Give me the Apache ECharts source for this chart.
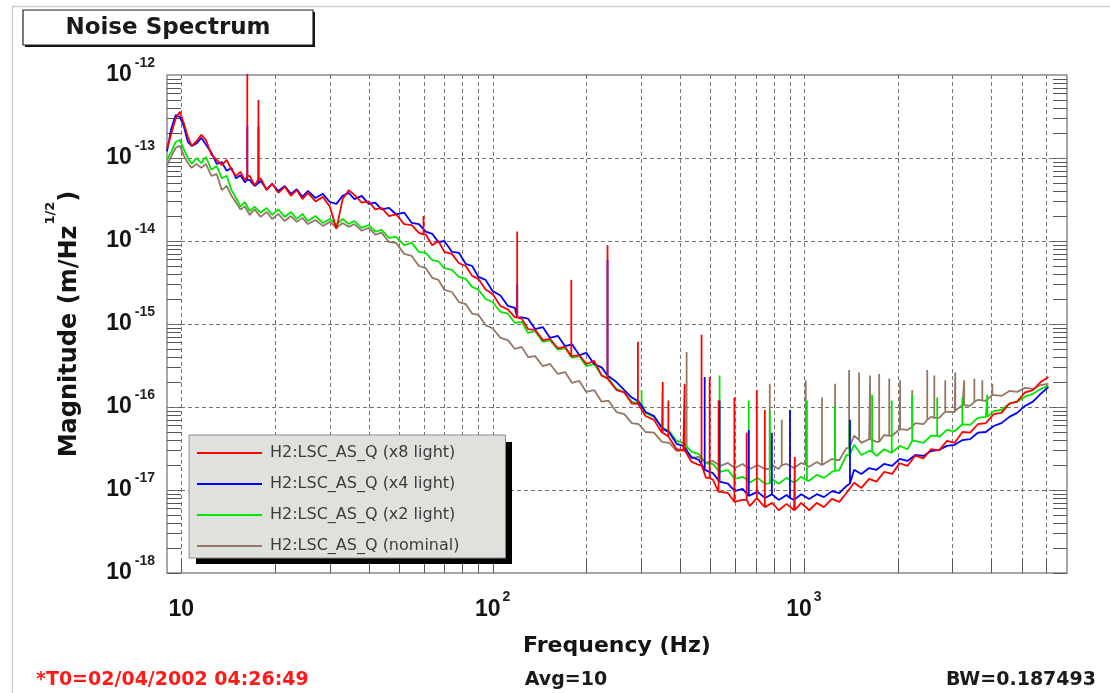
<!DOCTYPE html>
<html><head><meta charset="utf-8">
<script src="https://cdn.jsdelivr.net/npm/echarts@6/dist/echarts.min.js"></script>
<style>html,body{margin:0;padding:0;background:#fff;}#c{width:1110px;height:693px;}</style>
</head><body><div id="c"></div>
<script>
// ---- data ----
const freqs = [9,9.3,9.6,9.9,10.2,10.5,10.8,11.2,11.6,12,12.5,13,13.5,14,14.5,15,15.5,16,16.6,17.2,18,18.8,19.6,20.5,21.5,22.5,23.5,24.5,25.5,27,28.5,30,31.5,33,34.5,36,38,40,42,44,46.5,49,52,55,58,61,64,67,70,74,78,82,86,90,95,100,106,112,118,124,130,137,145,153,162,171,180,190,200,212,224,236,250,265,280,295,310,330,350,370,390,410,435,460,485,510,540,570,600,635,670,710,750,790,830,880,930,980,1040,1100,1160,1230,1300,1370,1450,1530,1620,1710,1810,1920,2030,2150,2280,2420,2560,2720,2880,3050,3230,3420,3620,3840,4070,4310,4570,4840,5130,5440,5760,6100];

const magX8 = [1.3e-13,2.0e-13,3.0e-13,3.6e-13,2.6e-13,1.8e-13,1.4e-13,1.6e-13,1.9e-13,1.65e-13,
1.1e-13,9.5e-14,8.2e-14,9.5e-14,7.2e-14,6.1e-14,6.8e-14,5.4e-14,6.1e-14,4.7e-14,
5.7e-14,4.1e-14,4.9e-14,3.8e-14,4.5e-14,3.5e-14,4.1e-14,3.2e-14,3.8e-14,3.0e-14,
3.4e-14,2.6e-14,1.4e-14,3.2e-14,4.1e-14,3.6e-14,2.9e-14,3.0e-14,2.4e-14,2.5e-14,
2.0e-14,2.1e-14,1.6e-14,1.55e-14,1.25e-14,1.2e-14,8.9e-15,1.0e-14,7.4e-15,7.0e-15,
5.4e-15,5.0e-15,3.8e-15,3.5e-15,2.6e-15,2.3e-15,1.65e-15,1.5e-15,1.2e-15,1.16e-15,
8.7e-16,8.5e-16,6.4e-16,6.6e-16,5.1e-16,5.3e-16,4.1e-16,4.2e-16,3.3e-16,3.6e-16,
2.4e-16,2.2e-16,1.6e-16,1.5e-16,1.1e-16,1.06e-16,7.8e-17,7.0e-17,4.9e-17,4.35e-17,
3.1e-17,3.0e-17,2.2e-17,2.0e-17,1.4e-17,1.33e-17,9.5e-18,9.2e-18,7.2e-18,7.6e-18,
6.4e-18,8.0e-18,6.2e-18,7.0e-18,5.7e-18,6.8e-18,5.7e-18,7.0e-18,5.7e-18,7.0e-18,
6.2e-18,7.8e-18,7.2e-18,9.2e-18,1.22e-17,1.06e-17,1.36e-17,1.26e-17,1.65e-17,1.56e-17,
2.1e-17,1.95e-17,2.6e-17,2.4e-17,3.1e-17,3.0e-17,3.9e-17,3.7e-17,5.0e-17,4.9e-17,
6.2e-17,6.4e-17,8.2e-17,8.5e-17,1.1e-16,1.16e-16,1.5e-16,1.6e-16,2.0e-16,2.3e-16];

const magX4 = [1.2e-13,2.3e-13,3.3e-13,3.1e-13,2.4e-13,1.56e-13,1.4e-13,1.5e-13,1.75e-13,1.45e-13,
1.16e-13,8.5e-14,8.9e-14,7.0e-14,7.6e-14,5.7e-14,6.2e-14,5.1e-14,5.4e-14,4.6e-14,
5.3e-14,4.2e-14,4.9e-14,4.0e-14,4.6e-14,3.7e-14,4.2e-14,3.4e-14,4.0e-14,3.3e-14,
3.7e-14,2.95e-14,2.8e-14,3.5e-14,3.8e-14,3.2e-14,3.5e-14,2.8e-14,2.9e-14,2.4e-14,
2.5e-14,2.1e-14,2.2e-14,1.65e-14,1.6e-14,1.3e-14,1.22e-14,9.7e-15,1.0e-14,7.4e-15,
7.2e-15,5.3e-15,5.0e-15,3.7e-15,3.4e-15,2.5e-15,2.2e-15,1.65e-15,1.56e-15,1.2e-15,
1.16e-15,8.7e-16,9.2e-16,6.8e-16,7.2e-16,5.4e-16,5.7e-16,4.2e-16,4.5e-16,3.3e-16,
3.0e-16,2.4e-16,2.0e-16,1.6e-16,1.3e-16,1.16e-16,8.7e-17,7.8e-17,5.6e-17,4.9e-17,
3.6e-17,3.4e-17,2.5e-17,2.3e-17,1.75e-17,1.6e-17,1.26e-17,1.19e-17,9.7e-18,1.03e-17,
8.5e-18,9.5e-18,8.0e-18,8.9e-18,7.6e-18,8.7e-18,7.6e-18,8.9e-18,7.8e-18,8.9e-18,
8.2e-18,9.7e-18,9.2e-18,1.12e-17,1.75e-17,1.56e-17,1.84e-17,1.75e-17,2.06e-17,1.95e-17,
2.37e-17,2.24e-17,2.64e-17,2.57e-17,2.95e-17,3.04e-17,3.4e-17,3.5e-17,4.0e-17,4.1e-17,
4.9e-17,5.0e-17,5.9e-17,6.4e-17,7.6e-17,8.5e-17,1.03e-16,1.16e-16,1.44e-16,1.74e-16];

const magX2 = [9.5e-14,1.2e-13,1.56e-13,1.65e-13,1.26e-13,1.0e-13,8.5e-14,1.0e-13,8.7e-14,1.03e-13,
7.2e-14,8.0e-14,5.7e-14,6.1e-14,4.1e-14,3.3e-14,2.6e-14,2.95e-14,2.3e-14,2.6e-14,
2.2e-14,2.5e-14,2.06e-14,2.4e-14,1.95e-14,2.24e-14,1.84e-14,2.12e-14,1.74e-14,2.0e-14,
1.65e-14,1.84e-14,1.56e-14,1.84e-14,1.6e-14,1.74e-14,1.44e-14,1.56e-14,1.3e-14,1.36e-14,
1.09e-14,1.12e-14,8.9e-15,9.5e-15,7.4e-15,7.2e-15,5.9e-15,5.7e-15,4.7e-15,4.5e-15,
3.7e-15,3.5e-15,2.8e-15,2.6e-15,2.0e-15,1.84e-15,1.4e-15,1.33e-15,1.03e-15,1.06e-15,
7.8e-16,8.2e-16,6.1e-16,6.4e-16,4.9e-16,5.1e-16,3.9e-16,4.1e-16,3.1e-16,3.3e-16,
2.4e-16,2.2e-16,1.65e-16,1.5e-16,1.16e-16,1.1e-16,8.5e-17,7.6e-17,5.7e-17,5.1e-17,
3.9e-17,3.7e-17,2.9e-17,2.7e-17,2.1e-17,2.06e-17,1.65e-17,1.74e-17,1.36e-17,1.44e-17,
1.22e-17,1.4e-17,1.19e-17,1.36e-17,1.19e-17,1.4e-17,1.22e-17,1.44e-17,1.29e-17,1.52e-17,
1.4e-17,1.65e-17,1.74e-17,2.64e-17,3.5e-17,2.64e-17,2.95e-17,2.57e-17,3.1e-17,2.8e-17,
3.4e-17,3.1e-17,3.9e-17,3.7e-17,4.5e-17,4.35e-17,5.3e-17,5.1e-17,6.2e-17,6.1e-17,
7.4e-17,7.6e-17,8.9e-17,9.2e-17,1.1e-16,1.16e-16,1.33e-16,1.44e-16,1.65e-16,1.8e-16];

const magNominal = [8.2e-14,1.06e-13,1.33e-13,1.4e-13,1.06e-13,8.7e-14,7.6e-14,8.5e-14,7.6e-14,8.5e-14,
6.1e-14,6.4e-14,4.1e-14,4.6e-14,3.5e-14,2.9e-14,2.4e-14,2.6e-14,2.06e-14,2.4e-14,
1.95e-14,2.24e-14,1.84e-14,2.12e-14,1.74e-14,2.0e-14,1.7e-14,1.9e-14,1.6e-14,1.79e-14,
1.52e-14,1.7e-14,1.44e-14,1.65e-14,1.48e-14,1.6e-14,1.33e-14,1.44e-14,1.19e-14,1.26e-14,
9.7e-15,9.5e-15,7.0e-15,6.6e-15,5.0e-15,4.7e-15,3.6e-15,3.4e-15,2.57e-15,2.43e-15,
1.84e-15,1.74e-15,1.33e-15,1.29e-15,9.7e-16,8.9e-16,6.8e-16,6.4e-16,5.0e-16,5.3e-16,
4.0e-16,4.1e-16,3.1e-16,3.3e-16,2.5e-16,2.64e-16,1.95e-16,2.06e-16,1.52e-16,1.6e-16,
1.16e-16,1.19e-16,8.7e-17,8.2e-17,6.4e-17,6.2e-17,5.0e-17,4.9e-17,3.8e-17,3.7e-17,
2.95e-17,3.0e-17,2.43e-17,2.5e-17,2.12e-17,2.24e-17,1.95e-17,2.12e-17,1.84e-17,2.06e-17,
1.79e-17,2.0e-17,1.79e-17,2.0e-17,1.79e-17,2.06e-17,1.84e-17,2.12e-17,1.9e-17,2.18e-17,
2.0e-17,2.37e-17,2.3e-17,3.2e-17,4.5e-17,3.7e-17,4.1e-17,3.8e-17,4.6e-17,4.5e-17,
5.4e-17,5.3e-17,6.4e-17,6.2e-17,7.6e-17,7.4e-17,8.9e-17,8.7e-17,1.06e-16,1.03e-16,
1.22e-16,1.19e-16,1.4e-16,1.36e-16,1.56e-16,1.52e-16,1.7e-16,1.65e-16,1.84e-16,1.9e-16];

// spectral lines: [frequency, level beside the line, peak level]
const spikesX8 = [[16.3,6.0e-14,1.1e-12],[17.7,5.5e-14,5.0e-13],[60,1.2e-14,2.0e-14],[120,1.2e-15,1.3e-14],[179,4.1e-16,3.4e-15],[234,2.2e-16,8.9e-15],[293,1.1e-16,6.1e-16],[352,4.9e-17,2.0e-16],[367,4.4e-17,1.2e-16],[414,3.0e-17,1.9e-16],[469,2.0e-17,7.4e-16],[498,1.4e-17,2.3e-16],[532,9.5e-18,1.2e-16],[598,7.2e-18,1.3e-16],[655,7.6e-18,4.9e-17],[706,8.0e-18,1.6e-16],[749,6.2e-18,9.2e-17],[935,5.7e-18,2.5e-17]];
const spikesX4 = [[16.3,5.5e-14,2.4e-13],[17.7,5.0e-14,2.4e-13],[120,1.2e-15,3.0e-15],[234,2.4e-16,5.9e-15],[480,1.75e-17,2.3e-16],[536,1.26e-17,1.2e-16],[665,8.5e-18,5.3e-17],[789,8.9e-18,4.9e-17],[902,8.0e-18,9.2e-17],[1406,1.2e-17,7.0e-17]];
const spikesX2 = [[301,1.1e-16,1.6e-16],[536,1.65e-17,2.4e-16],[665,1.3e-17,1.2e-16],[777,1.2e-17,9.2e-17],[1023,1.3e-17,1.2e-16],[1259,1.7e-17,1.05e-16],[1400,2.6e-17,6.4e-17],[1656,2.9e-17,1.4e-16],[1915,2.8e-17,1.2e-16],[2228,3.9e-17,1.4e-16],[2680,4.5e-17,1.3e-16],[3228,6.2e-17,1.3e-16],[3882,7.6e-17,1.4e-16]];
const spikesNominal = [[420,2.9e-17,4.6e-16],[777,1.8e-17,1.9e-16],[849,2.0e-17,7.0e-17],[1014,2.0e-17,2.1e-16],[1143,2.0e-17,1.3e-16],[1259,2.3e-17,1.9e-16],[1397,3.2e-17,2.8e-16],[1504,4.0e-17,2.6e-16],[1632,4.1e-17,2.4e-16],[1745,3.8e-17,2.5e-16],[1880,4.5e-17,2.2e-16],[2038,5.4e-17,2.1e-16],[2228,5.8e-17,1.6e-16],[2490,7.0e-17,2.8e-16],[2624,7.4e-17,2.4e-16],[2845,8.8e-17,2.1e-16],[3064,9.0e-17,2.6e-16],[3273,1.05e-16,2.1e-16],[3528,1.15e-16,2.2e-16],[3742,1.2e-16,2.1e-16],[4030,1.4e-16,1.9e-16]];

const seriesNames = ['H2:LSC_AS_Q (x8 light)','H2:LSC_AS_Q (x4 light)','H2:LSC_AS_Q (x2 light)','H2:LSC_AS_Q (nominal)'];
const seriesColors = ['#ff0000','#0000ff','#00e600','#957766'];

// axis ticks / labels
const xMin = 9, xMax = 7000, yMin = 1e-18, yMax = 1e-12;
const xLabelValues = [10, 100, 1000];
const xLabelExps = ['', '2', '3'];
const yLabelValues = [1e-18,1e-17,1e-16,1e-15,1e-14,1e-13,1e-12];
const yLabelExps = ['-18','-17','-16','-15','-14','-13','-12'];
const xGrid = [10,20,30,40,50,60,70,80,90,100,200,300,400,500,600,700,800,900,1000,2000,3000,4000,5000,6000];
const yDecadeExps = [-18,-17,-16,-15,-14,-13];
const yMantissas = [1,2,3,4,5,6,7,8,9];

// ---- build ----
function buildLine(mags, spikes) {
  const pts = freqs.map((f, i) => [f, mags[i]]);
  spikes.forEach(s => { pts.push([s[0], s[1]], [s[0], s[2]], [s[0], s[1]]); });
  pts.sort((a, b) => a[0] - b[0]);
  return pts;
}
const lineData = [buildLine(magX8, spikesX8), buildLine(magX4, spikesX4), buildLine(magX2, spikesX2), buildLine(magNominal, spikesNominal)];

const yTicks = [];
yDecadeExps.forEach(e => yMantissas.forEach(m => yTicks.push([100, m * Math.pow(10, e), (m === 1 && e > -18) ? 1 : 0])));

function findIdx(arr, v) {
  for (let i = 0; i < arr.length; i++) if (Math.abs(Math.log10(v) - Math.log10(arr[i])) < 1e-6) return i;
  return -1;
}

const gridStroke = '#737373';
const tickStroke = '#555';
const TICK = 14;
const r5 = v => Math.round(v) + 0.5;

const series = [];
series.push({
  type: 'custom', name: '_xgrid', coordinateSystem: 'cartesian2d', silent: true, z: 1,
  data: xGrid.map(v => [v, yMin]),
  renderItem: (params, api) => {
    const v = api.value(0);
    const b = api.coord([v, yMin]), t = api.coord([v, yMax]);
    const x = r5(b[0]);
    return { type: 'group', children: [
      { type: 'line', shape: { x1: x, y1: t[1], x2: x, y2: b[1] }, style: { stroke: gridStroke, lineWidth: 1, lineDash: [4, 3] } },
      { type: 'line', shape: { x1: x, y1: b[1], x2: x, y2: b[1] - TICK }, style: { stroke: tickStroke, lineWidth: 1 } }
    ]};
  }
});
series.push({
  type: 'custom', name: '_ygrid', coordinateSystem: 'cartesian2d', silent: true, z: 1,
  data: yTicks,
  renderItem: (params, api) => {
    const v = api.value(1), major = api.value(2);
    const l = api.coord([xMin, v]), r = api.coord([xMax, v]);
    const y = r5(l[1]);
    const ch = [
      { type: 'line', shape: { x1: l[0], y1: y, x2: l[0] + TICK, y2: y }, style: { stroke: tickStroke, lineWidth: 1 } },
      { type: 'line', shape: { x1: r[0] - TICK, y1: y, x2: r[0], y2: y }, style: { stroke: tickStroke, lineWidth: 1 } }
    ];
    if (major) ch.push({ type: 'line', shape: { x1: l[0], y1: y, x2: r[0], y2: y }, style: { stroke: gridStroke, lineWidth: 1, lineDash: [4, 3] } });
    return { type: 'group', children: ch };
  }
});
// draw nominal first, x8 last (on top)
[3, 2, 1, 0].forEach(i => {
  series.push({
    name: seriesNames[i], type: 'line', data: lineData[i], showSymbol: false, symbol: 'none',
    lineStyle: { color: seriesColors[i], width: 1.8 }, itemStyle: { color: seriesColors[i] },
    z: 2, silent: true, emphasis: { disabled: true }, clip: true
  });
});

const tickFont = 'Liberation Sans';
const option = {
  animation: false,
  backgroundColor: '#ffffff',
  textStyle: { fontFamily: 'DejaVu Sans' },
  grid: { left: 167, top: 75, width: 900, height: 498, show: true, borderColor: '#8a8a8a', borderWidth: 1.5, backgroundColor: 'rgba(0,0,0,0)', outerBoundsMode: 'none' },
  xAxis: {
    type: 'log', logBase: 10, min: xMin, max: xMax,
    name: 'Frequency (Hz)', nameLocation: 'middle', nameGap: 53,
    nameTextStyle: { fontFamily: 'DejaVu Sans', fontWeight: 'bold', fontSize: 22, lineHeight: 26, color: '#141414' },
    axisLine: { show: false }, axisTick: { show: false }, splitLine: { show: false }, minorTick: { show: false }, minorSplitLine: { show: false },
    axisLabel: {
      margin: 17,
      formatter: v => { const i = findIdx(xLabelValues, v); if (i < 0) return ''; return xLabelExps[i] ? '{b|10}{s|' + xLabelExps[i] + '}' : '{b|10}'; },
      rich: {
        b: { fontFamily: tickFont, fontWeight: 'bold', fontSize: 23, lineHeight: 39, color: '#141414' },
        s: { fontFamily: tickFont, fontWeight: 'bold', fontSize: 14, lineHeight: 15, padding: [0, 0, 24, 2], color: '#222' }
      }
    }
  },
  yAxis: {
    type: 'log', logBase: 10, min: yMin, max: yMax,
    name: '{a|Magnitude (m/Hz}{s|1/2}{a|)}', nameLocation: 'middle', nameGap: 73,
    nameTextStyle: {
      rich: {
        a: { fontFamily: 'DejaVu Sans', fontWeight: 'bold', fontSize: 24, lineHeight: 28, color: '#141414' },
        s: { fontFamily: 'DejaVu Sans', fontWeight: 'bold', fontSize: 13, lineHeight: 13, padding: [0, 0, 38, 1], color: '#141414' }
      }
    },
    axisLine: { show: false }, axisTick: { show: false }, splitLine: { show: false }, minorTick: { show: false }, minorSplitLine: { show: false },
    axisLabel: {
      margin: 12,
      formatter: v => { const i = findIdx(yLabelValues, v); if (i < 0) return ''; return '{b|10}{s|' + yLabelExps[i] + '}'; },
      rich: {
        b: { fontFamily: tickFont, fontWeight: 'bold', fontSize: 23, lineHeight: 24, color: '#141414' },
        s: { fontFamily: tickFont, fontWeight: 'bold', fontSize: 14, lineHeight: 15, padding: [0, 0, 24, 3], color: '#222' }
      }
    }
  },
  legend: {
    orient: 'vertical', left: 189, top: 435, z: 6,
    data: seriesNames, icon: 'rect', itemWidth: 65, itemHeight: 2, itemGap: 15,
    padding: [10, 46, 4, 8],
    backgroundColor: '#dfe2dc', borderColor: '#8e8e8e', borderWidth: 1,
    selectedMode: false,
    textStyle: { fontFamily: 'DejaVu Sans', fontSize: 16, lineHeight: 16, color: '#3c3c3c', padding: [0, 0, 0, 3] }
  },
  tooltip: { show: false },
  series: series,
  graphic: [
    { type: 'rect', silent: true, z: 0, shape: { x: 12.5, y: 6.5, width: 1200, height: 800 }, style: { fill: 'none', stroke: '#cfcfcf', lineWidth: 1.5 } },
    // legend drop shadow
    { type: 'rect', silent: true, z: 5, shape: { x: 196, y: 442, width: 316, height: 122 }, style: { fill: '#000', stroke: 'none' } },
    { type: 'rect', silent: true, z: 10, shape: { x: 25, y: 12, width: 290, height: 35 }, style: { fill: '#111', stroke: 'none' } },
    { type: 'rect', silent: true, z: 11, shape: { x: 23, y: 10, width: 290, height: 35 }, style: { fill: '#fff', stroke: '#222', lineWidth: 1.2 } },
    { type: 'text', silent: true, z: 12, style: { x: 168, y: 28, text: 'Noise Spectrum', textAlign: 'center', textVerticalAlign: 'middle', verticalAlign: 'middle', fontFamily: 'DejaVu Sans', fontWeight: 'bold', fontSize: 23, fill: '#1a1a1a' } },
    { type: 'text', silent: true, z: 12, style: { x: 36, y: 680, text: '*T0=02/04/2002 04:26:49', textAlign: 'left', textVerticalAlign: 'middle', verticalAlign: 'middle', fontFamily: 'DejaVu Sans', fontWeight: 'bold', fontSize: 19, fill: '#ff1a1a' } },
    { type: 'text', silent: true, z: 12, style: { x: 566, y: 680, text: 'Avg=10', textAlign: 'center', textVerticalAlign: 'middle', verticalAlign: 'middle', fontFamily: 'DejaVu Sans', fontWeight: 'bold', fontSize: 19, fill: '#1a1a1a' } },
    { type: 'text', silent: true, z: 12, style: { x: 1096, y: 680, text: 'BW=0.187493', textAlign: 'right', textVerticalAlign: 'middle', verticalAlign: 'middle', fontFamily: 'DejaVu Sans', fontWeight: 'bold', fontSize: 19, fill: '#1a1a1a' } }
  ]
};
const chart = echarts.init(document.getElementById('c'), null, { renderer: 'canvas' });
chart.setOption(option);
</script>
</body></html>
